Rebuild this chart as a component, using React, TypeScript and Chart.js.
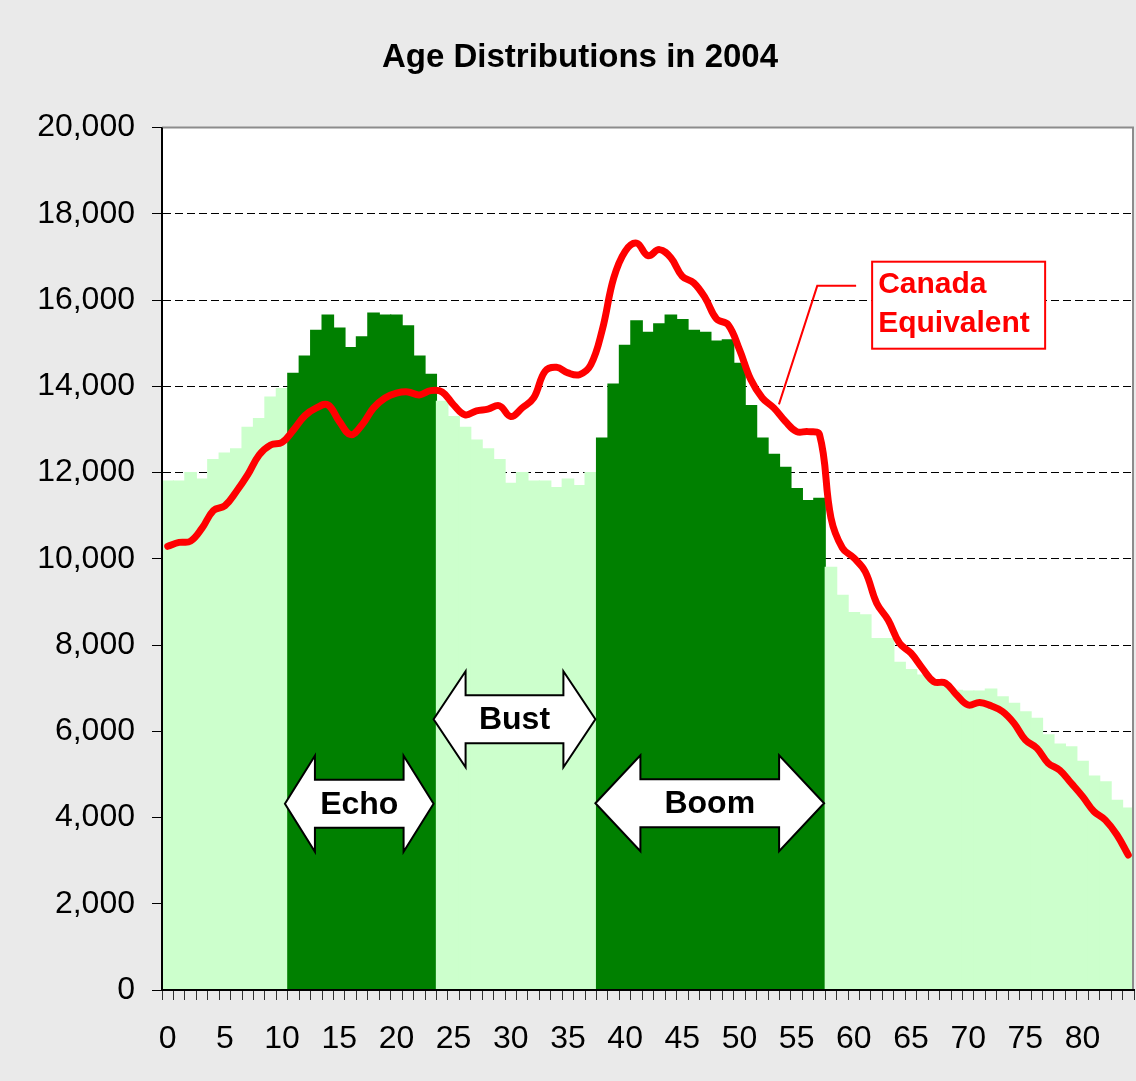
import React, { useEffect, useRef } from 'react';
import { Chart, registerables } from 'chart.js';

Chart.register(...registerables);

// ---------- DATA ----------
const ages = [
  '0','1','2','3','4','5','6','7','8','9',
  '10','11','12','13','14','15','16','17','18','19',
  '20','21','22','23','24','25','26','27','28','29',
  '30','31','32','33','34','35','36','37','38','39',
  '40','41','42','43','44','45','46','47','48','49',
  '50','51','52','53','54','55','56','57','58','59',
  '60','61','62','63','64','65','66','67','68','69',
  '70','71','72','73','74','75','76','77','78','79',
  '80','81','82','83','84',
];

// Population by single year of age (bars)
const population = [
  11800, 11800, 12000, 11850, 12300, 12450, 12550, 13050, 13250, 13750,
  13950, 14300, 14700, 15300, 15650, 15350, 14900, 15150, 15700, 15650,
  15650, 15400, 14700, 14280, 13650, 13300, 13050, 12750, 12550, 12300,
  11750, 12000, 11800, 11800, 11650, 11850, 11700, 12000, 12800, 14050,
  14950, 15520, 15250, 15450, 15650, 15550, 15300, 15250, 15050, 15080,
  14530, 13550, 12800, 12420, 12120, 11630, 11350, 11400, 9800, 9150,
  8750, 8700, 8150, 8150, 7600, 7430, 7300, 7200, 7050, 6950,
  6930, 6930, 6980, 6800, 6650, 6450, 6300, 5920, 5700, 5640,
  5300, 4960, 4830, 4400, 4220,
];

// Canada equivalent (red line)
const canadaEquivalent = [
  10290, 10380, 10410, 10710, 11120, 11230, 11560, 11950, 12410, 12640,
  12700, 12990, 13320, 13500, 13570, 13190, 12880, 13110, 13500, 13730,
  13840, 13870, 13800, 13900, 13870, 13570, 13340, 13430, 13470, 13550,
  13300, 13500, 13730, 14350, 14440, 14310, 14270, 14500, 15310, 16510,
  17130, 17320, 17030, 17170, 16980, 16550, 16400, 16050, 15560, 15430,
  14850, 14150, 13730, 13500, 13190, 12950, 12950, 12880, 10950, 10250,
  10020, 9700, 8970, 8580, 8040, 7810, 7460, 7150, 7120, 6840,
  6610, 6670, 6590, 6460, 6190, 5800, 5610, 5260, 5100, 4800,
  4490, 4140, 3940, 3600, 3130,
];

const xTickLabels = ['0','5','10','15','20','25','30','35','40','45','50','55','60','65','70','75','80'];
const yTicks = [0, 2000, 4000, 6000, 8000, 10000, 12000, 14000, 16000, 18000, 20000];

// Highlighted generations (age ranges, inclusive)
const echoRange = [11, 23];
const boomRange = [38, 57];

const titleText = 'Age Distributions in 2004';
const seriesLabel = ['Canada', 'Equivalent'];

// Annotation arrows (positions in category / value units)
const arrowNotes = [
  { label: 'Echo', from: 10.25, to: 23.25, value: 4320, head: 30 },
  { label: 'Bust', from: 23.25, to: 37.4, value: 6280, head: 32 },
  { label: 'Boom', from: 37.4, to: 57.4, value: 4330, head: 45 },
];
const labelBox = { left: 61.6, top: 16890, w: 173, h: 87 };
const leader = [
  { x: 53.45, y: 13580 },
  { x: 56.8, y: 16330 },
  { x: 60.2, y: 16330 },
];

// ---------- STYLE ----------
const FONT = 'Arial, "Liberation Sans", Helvetica, sans-serif';
const LIGHT = '#ccffcc';
const DARK = '#008000';
const RED = '#ff0000';
const BG = '#eaeaea';

const barColors = population.map((_, i) =>
  (i >= echoRange[0] && i <= echoRange[1]) || (i >= boomRange[0] && i <= boomRange[1]) ? DARK : LIGHT
);

const framePlugin = {
  id: 'frame',
  beforeDraw(chart: any) {
    const { ctx, chartArea: a, width, height } = chart;
    ctx.save();
    ctx.fillStyle = BG;
    ctx.fillRect(0, 0, width, height);
    ctx.fillStyle = '#ffffff';
    ctx.fillRect(a.left, a.top, a.right - a.left, a.bottom - a.top);
    ctx.restore();
  },
  afterDatasetsDraw(chart: any) {
    const { ctx, chartArea: a } = chart;
    const xs = chart.scales.x;
    const ys = chart.scales.y;
    ctx.save();

    // frame
    ctx.lineWidth = 2;
    ctx.strokeStyle = '#8c8c8c';
    ctx.beginPath();
    ctx.moveTo(a.left, a.top);
    ctx.lineTo(a.right - 1, a.top);
    ctx.lineTo(a.right - 1, a.bottom);
    ctx.stroke();
    ctx.strokeStyle = '#000';
    ctx.beginPath();
    ctx.moveTo(a.left, a.top);
    ctx.lineTo(a.left, a.bottom);
    ctx.lineTo(a.right, a.bottom);
    ctx.stroke();

    // arrows
    for (const n of arrowNotes) {
      const x1 = xs.getPixelForValue(n.from);
      const x2 = xs.getPixelForValue(n.to);
      const yc = ys.getPixelForValue(n.value);
      const H = 48, b = 24, h = n.head;
      ctx.beginPath();
      ctx.moveTo(x1, yc);
      ctx.lineTo(x1 + h, yc - H);
      ctx.lineTo(x1 + h, yc - b);
      ctx.lineTo(x2 - h, yc - b);
      ctx.lineTo(x2 - h, yc - H);
      ctx.lineTo(x2, yc);
      ctx.lineTo(x2 - h, yc + H);
      ctx.lineTo(x2 - h, yc + b);
      ctx.lineTo(x1 + h, yc + b);
      ctx.lineTo(x1 + h, yc + H);
      ctx.closePath();
      ctx.fillStyle = '#fff';
      ctx.fill();
      ctx.lineWidth = 2;
      ctx.strokeStyle = '#000';
      ctx.lineJoin = 'miter';
      ctx.stroke();
      ctx.fillStyle = '#000';
      ctx.font = `bold 32px ${FONT}`;
      ctx.textAlign = 'center';
      ctx.textBaseline = 'middle';
      ctx.fillText(n.label, (x1 + x2) / 2, yc + 1);
    }

    // leader line
    ctx.strokeStyle = RED;
    ctx.lineWidth = 2;
    ctx.beginPath();
    leader.forEach((p, i) => {
      const px = xs.getPixelForValue(p.x);
      const py = ys.getPixelForValue(p.y);
      if (i === 0) ctx.moveTo(px, py); else ctx.lineTo(px, py);
    });
    ctx.stroke();

    // label box
    const bx = xs.getPixelForValue(labelBox.left);
    const by = ys.getPixelForValue(labelBox.top);
    ctx.fillStyle = '#fff';
    ctx.fillRect(bx, by, labelBox.w, labelBox.h);
    ctx.strokeStyle = RED;
    ctx.lineWidth = 2;
    ctx.strokeRect(bx, by, labelBox.w, labelBox.h);
    ctx.fillStyle = RED;
    ctx.font = `bold 30px ${FONT}`;
    ctx.textAlign = 'left';
    ctx.textBaseline = 'alphabetic';
    ctx.fillText(seriesLabel[0], bx + 6, by + 31);
    ctx.fillText(seriesLabel[1], bx + 6, by + 70);

    ctx.restore();
  },
};

export default function App() {
  const ref = useRef<HTMLCanvasElement>(null);
  useEffect(() => {
    document.body.style.margin = '0';
    document.body.style.background = BG;
    const chart = new Chart(ref.current as HTMLCanvasElement, {
      type: 'bar',
      data: {
        labels: ages,
        datasets: [
          {
            type: 'line',
            label: 'Canada Equivalent',
            data: canadaEquivalent,
            borderColor: RED,
            borderWidth: 7,
            pointRadius: 0,
            tension: 0.4,
            borderCapStyle: 'round',
            borderJoinStyle: 'round',
            fill: false,
            order: 0,
          } as any,
          {
            type: 'bar',
            label: 'Population',
            data: population,
            backgroundColor: barColors,
            borderWidth: 0,
            inflateAmount: 0.6,
            categoryPercentage: 1,
            barPercentage: 1,
            order: 1,
          } as any,
        ],
      },
      options: {
        responsive: false,
        animation: false,
        devicePixelRatio: 1,
        layout: { padding: { left: 26, right: 2, top: 0, bottom: 0 } },
        plugins: {
          legend: { display: false },
          tooltip: { enabled: false },
          title: {
            display: true,
            text: titleText,
            color: '#000',
            font: { family: FONT, size: 33, weight: 'bold' },
            padding: { top: 38, bottom: 50 },
          },
        },
        scales: {
          x: {
            offset: true,
            afterFit: (s: any) => { s.height = 91; s.paddingLeft = 0; s.paddingRight = 0; },
            grid: {
              display: true,
              drawOnChartArea: false,
              drawTicks: true,
              tickLength: 10,
              offset: true,
              color: '#333',
            },
            border: { display: true, color: '#000', width: 2 },
            ticks: {
              autoSkip: false,
              maxRotation: 0,
              minRotation: 0,
              padding: 20,
              color: '#000',
              font: { family: FONT, size: 32 },
              callback: (_v: any, i: number) => (xTickLabels.includes(ages[i]) ? ages[i] : ''),
            },
          },
          y: {
            min: yTicks[0],
            max: yTicks[yTicks.length - 1],
            afterFit: (s: any) => { s.width = 136; },
            afterBuildTicks: (s: any) => { s.ticks = yTicks.map((v) => ({ value: v })); },
            grid: {
              display: true,
              drawOnChartArea: true,
              drawTicks: true,
              tickLength: 10,
              color: (c: any) => (c.tick && (c.tick.value === yTicks[0] || c.tick.value === yTicks[yTicks.length - 1]) ? 'rgba(0,0,0,0)' : '#000'),
              tickColor: '#000',
              tickBorderDash: [1, 0],
              lineWidth: 1,
            },
            border: { display: true, color: '#000', width: 2, dash: [8, 4] },
            ticks: {
              padding: 17,
              color: '#000',
              font: { family: FONT, size: 32 },
              callback: (v: any) => Number(v).toLocaleString('en-US'),
            },
          },
        },
      },
      plugins: [framePlugin],
    } as any);
    return () => chart.destroy();
  }, []);
  return <canvas ref={ref} width={1136} height={1081} style={{ display: 'block' }} />;
}
